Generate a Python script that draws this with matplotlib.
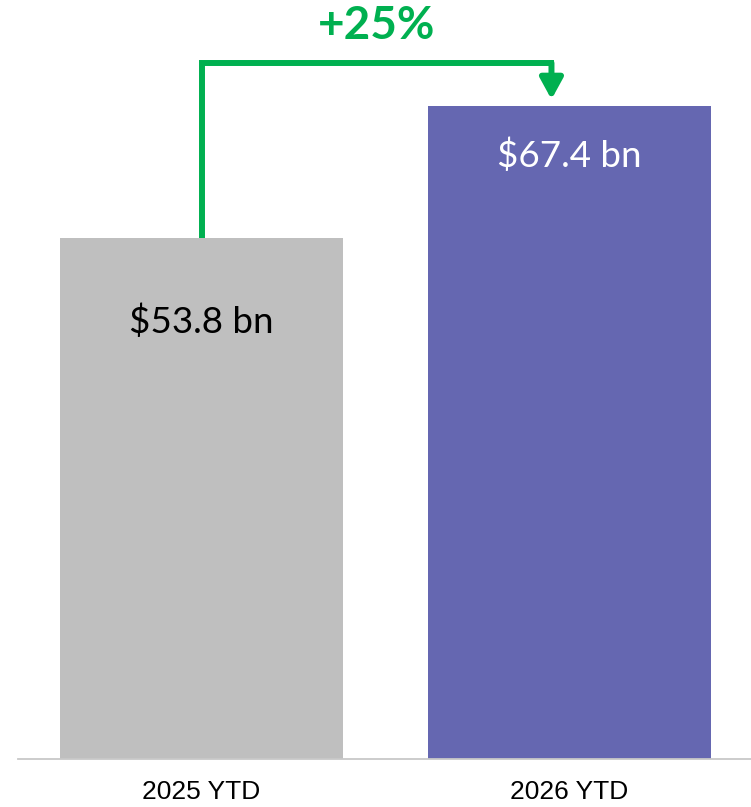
import matplotlib.pyplot as plt
from matplotlib import font_manager

periods = ['2025 YTD', '2026 YTD']
values = [53.8, 67.4]
value_labels = ['$53.8 bn', '$67.4 bn']
growth_label = '+25%'

bar_colors = ['#bfbfbf', '#6567b1']
label_colors = ['black', 'white']
label_drop = [84, 50]  # px below the bar top
green = '#00b050'

narrow = 'Liberation Sans Narrow'
names = {f.name for f in font_manager.fontManager.ttflist}
if narrow not in names:
    narrow = 'Liberation Sans'

fig = plt.figure(figsize=(7.51, 8.07), dpi=100)
ax = fig.add_axes([0, 48 / 807, 1, 759 / 807])

x = list(range(len(values)))
ax.bar(x, values, width=0.769, color=bar_colors, zorder=2)
ax.set_xlim(-0.5476, 1.4932)
ax.set_ylim(0, 78.36)

for xi, v, lab, c, d in zip(x, values, value_labels, label_colors, label_drop):
    ax.annotate(lab, (xi, v), xytext=(0, -d * 0.72), textcoords='offset points',
                ha='center', va='center', color=c, fontsize=26.5,
                family=['Lato', 'DejaVu Sans'], zorder=3)

# growth connector from first bar up and over to second bar
top = 71.86
x_end = x[1] - 0.049
ax.plot([x[0], x[0], x_end], [values[0], top, top], color=green, lw=4.3,
        solid_joinstyle='miter', solid_capstyle='projecting', zorder=1)
ax.annotate('', xy=(x_end, values[1] + 0.7), xytext=(x_end, top),
            arrowprops=dict(arrowstyle='-|>,head_length=0.42,head_width=0.23',
                            mutation_scale=30, color=green, lw=4.3,
                            shrinkA=0, shrinkB=0), zorder=1)
ax.annotate(growth_label, ((x[0] + x_end) / 2, top), xytext=(0, 26.5),
            textcoords='offset points', ha='center', va='center', color=green,
            fontsize=33, fontweight='bold', family=['Lato', 'DejaVu Sans'])

for s in ['top', 'right', 'left']:
    ax.spines[s].set_visible(False)
ax.spines['bottom'].set_bounds(-0.4986, 1.4932)
ax.spines['bottom'].set_color('#c8c8c8')
ax.spines['bottom'].set_linewidth(1.3)
ax.set_yticks([])
ax.set_xticks(x)
ax.set_xticklabels(periods, fontsize=19, family=[narrow, 'DejaVu Sans'])
ax.tick_params(axis='x', length=0, pad=15)

fig.savefig('out.png', dpi=100)
